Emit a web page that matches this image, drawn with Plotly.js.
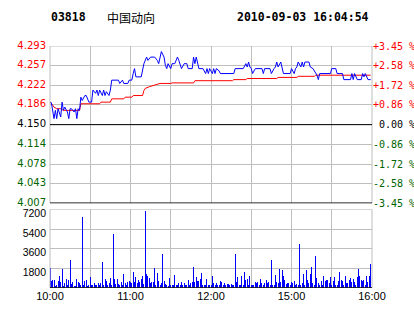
<!DOCTYPE html>
<html><head><meta charset="utf-8">
<script src="https://cdn.plot.ly/plotly-3.0.1.min.js"></script>
<style>html,body{margin:0;padding:0;background:#fff;}#chart{width:414px;height:314px;}</style>
</head><body><div id="chart"></div>
<script>
const stockCode = '03818';
const stockName = '中国动向';
const stamp = '2010-09-03 16:04:54';
const prevClose = 4.150;
const timeTickPos = [0, 30, 60, 90, 120, 150, 180, 210, 240];
const timeTickText = ['10:00', '', '11:00', '', '12:00', '', '15:00', '', '16:00'];
const priceTicks = [4.007, 4.043, 4.078, 4.114, 4.150, 4.186, 4.222, 4.257, 4.293];
const pctTicks = ['-3.45', '-2.58', '-1.72', '-0.86', '0.00', '+0.86', '+1.72', '+2.58', '+3.45'];
const volTicks = [1800, 3600, 5400, 7200];

// minutes since 10:00 (session time, lunch removed)
const priceMin = [0,1,3,4,5,6,8,9,10,11,13,14,15,16,18,19,20,21,22,23,
  24,26,27,29,31,32,34,35,36,37,39,40,41,42,44,45,46,51,52,54,
  55,58,59,61,62,63,64,68,70,71,72,73,75,78,80,81,82,83,85,86,
  87,88,90,91,93,95,96,97,98,100,102,103,106,107,108,109,111,114,116,117,
  118,119,121,122,123,124,126,127,137,138,144,146,147,148,149,150,151,153,158,159,
  160,164,165,167,168,169,170,172,173,174,179,180,182,183,184,185,187,188,189,190,
  193,194,196,198,199,200,201,209,210,213,214,218,219,224,225,226,227,229,232,233,
  234,235,237,239];
const priceVal = [4.190,4.190,4.161,4.176,4.161,4.179,4.164,4.191,4.176,4.182,4.173,4.161,4.179,4.179,4.173,4.179,4.161,4.179,4.176,4.200,
  4.194,4.203,4.203,4.191,4.191,4.213,4.207,4.213,4.203,4.213,4.203,4.213,4.203,4.210,4.203,4.213,4.231,4.231,4.225,4.231,
  4.225,4.225,4.231,4.231,4.243,4.252,4.237,4.237,4.261,4.267,4.273,4.267,4.273,4.273,4.267,4.261,4.273,4.283,4.273,4.258,
  4.252,4.261,4.252,4.261,4.261,4.273,4.267,4.258,4.252,4.261,4.261,4.252,4.252,4.273,4.261,4.273,4.252,4.252,4.243,4.252,
  4.243,4.252,4.243,4.252,4.243,4.252,4.248,4.243,4.243,4.252,4.252,4.261,4.255,4.264,4.255,4.252,4.243,4.252,4.252,4.243,
  4.252,4.252,4.243,4.252,4.255,4.264,4.255,4.264,4.255,4.243,4.243,4.252,4.243,4.252,4.255,4.264,4.255,4.264,4.255,4.264,
  4.264,4.255,4.252,4.243,4.240,4.232,4.243,4.243,4.252,4.252,4.243,4.243,4.232,4.232,4.243,4.232,4.243,4.232,4.232,4.243,
  4.237,4.243,4.232,4.232];

const avgMin = [0,3,5,8,10,22,23,37,38,45,46,55,56,61,62,69,70,71,74,79,82,90,91,107,108,136,137,146,147,169,170,184,185,197,198,239];
const avgVal = [4.192,4.182,4.179,4.179,4.176,4.176,4.188,4.188,4.191,4.191,4.197,4.197,4.200,4.200,4.203,4.203,4.212,4.216,4.219,4.222,
  4.225,4.225,4.226,4.226,4.230,4.230,4.232,4.232,4.234,4.234,4.236,4.236,4.238,4.238,4.240,4.240];

// one value per minute, starting 10:00
const volume = [
  1820,670,760,760,210,300,670,1125,550,1760,
  210,460,850,300,760,2580,400,550,210,210,
  850,550,490,300,6480,240,670,730,150,270,
  1030,300,300,460,300,300,460,300,430,2370,
  300,850,670,300,430,910,300,4950,850,365,
  850,365,240,550,300,1280,430,300,550,670,
  550,430,1460,550,970,430,760,550,850,1125,
  365,7050,1280,1125,910,430,550,550,1820,300,
  1370,610,300,430,3100,670,365,300,180,910,
  240,300,300,1220,240,240,430,240,550,300,
  430,240,300,730,300,430,550,1950,550,1030,
  610,670,850,1370,300,240,240,850,240,240,
  300,1125,460,240,430,240,240,610,550,240,
  430,240,400,400,240,400,300,240,3130,550,
  1030,300,240,1125,300,1490,760,850,300,1125,
  240,300,240,550,430,550,300,850,430,300,
  430,730,430,550,300,2580,240,240,1220,550,
  430,1760,550,1670,1125,730,365,430,430,300,
  550,430,670,300,365,300,4010,240,430,1300,
  300,1670,730,430,1280,1950,430,300,2950,940,
  430,300,670,300,1125,670,730,730,430,1030,
  300,610,1030,300,300,670,1490,730,670,300,
  1125,430,430,730,940,550,790,550,240,1030,
  1760,1125,730,670,730,300,1125,550,1125,2220];

const RED = '#ff0000', GREEN = '#006400', BLUE = '#0000ff', GRID = '#bebebe', BLACK = '#000000';
const yLo = prevClose * (1 - 0.0345), yHi = prevClose * (1 + 0.0345);

function colorFor(v) {
  if (Math.abs(v - prevClose) < 1e-6) return BLACK;
  return v > prevClose ? RED : GREEN;
}
const priceTickText = priceTicks.map(v => '<span style="color:' + colorFor(v) + '">' + v.toFixed(3) + '</span>');
const pctTickText = priceTicks.map((v, i) => '<span style="color:' + colorFor(v) + '">' + (pctTicks[i] === '0.00' ? '\u00a00.00' : pctTicks[i]) + '\u00a0%</span>');

const volX = volume.map((_, i) => i);

const traces = [
  { type: 'bar', x: volX, y: volume, xaxis: 'x', yaxis: 'y2', width: 0.75,
    marker: { color: BLUE, line: { width: 0 } }, hoverinfo: 'skip' },
  { type: 'scatter', mode: 'lines', x: avgMin, y: avgVal, xaxis: 'x2', yaxis: 'y',
    line: { color: RED, width: 1 }, hoverinfo: 'skip' },
  { type: 'scatter', mode: 'lines', x: priceMin, y: priceVal, xaxis: 'x2', yaxis: 'y',
    line: { color: BLUE, width: 1 }, hoverinfo: 'skip' },
  { type: 'scatter', mode: 'markers', x: [0], y: [prevClose], xaxis: 'x2', yaxis: 'y3',
    marker: { opacity: 0, size: 1 }, hoverinfo: 'skip' }
];

const H = 242, TOP = 46;
function py(px) { return (TOP + H - px) / H; }

const layout = {
  width: 414, height: 314,
  margin: { l: 50, r: 42, t: 46, b: 26, pad: 0 },
  paper_bgcolor: '#fff', plot_bgcolor: '#fff',
  showlegend: false, bargap: 0,
  xaxis: { domain: [0, 1], anchor: 'y2', range: [0, 240], tickmode: 'array',
    tickvals: timeTickPos, ticktext: timeTickText, showgrid: true, gridcolor: GRID, gridwidth: 1,
    zeroline: false, showline: false, ticks: '',
    tickfont: { family: 'Liberation Sans, Arial, sans-serif', size: 11, color: BLACK } },
  xaxis2: { domain: [0, 1], anchor: 'y', range: [0, 240], tickmode: 'array',
    tickvals: timeTickPos, showticklabels: false, showgrid: true, gridcolor: GRID, gridwidth: 1,
    zeroline: false, showline: false, ticks: '' },
  yaxis: { domain: [0.35, 1], anchor: 'x2', range: [yLo, yHi], tickmode: 'array',
    tickvals: priceTicks, ticktext: priceTickText, showgrid: true, gridcolor: GRID, gridwidth: 1,
    zeroline: false, showline: false, ticks: '', ticklabelstandoff: 3, ticklabelshift: -1,
    tickfont: { family: 'DejaVu Sans, sans-serif', size: 10, color: BLACK } },
  yaxis3: { overlaying: 'y', side: 'right', anchor: 'x2', range: [yLo, yHi], tickmode: 'array',
    tickvals: priceTicks, ticktext: pctTickText, showgrid: false, zeroline: false, showline: false, ticks: '',
    ticklabelstandoff: 0,
    tickfont: { family: 'DejaVu Sans Mono, monospace', size: 10, color: BLACK } },
  yaxis2: { domain: [0, 0.325], anchor: 'x', range: [0, 7200], tickmode: 'array',
    tickvals: volTicks, showgrid: true, gridcolor: GRID, gridwidth: 1,
    zeroline: false, showline: false, ticks: '', ticklabelstandoff: 3, ticklabelshift: 4,
    tickfont: { family: 'Liberation Sans, Arial, sans-serif', size: 10.5, color: BLACK } },
  shapes: [
    { type: 'rect', xref: 'paper', yref: 'y', x0: 0, x1: 1, y0: yLo, y1: yHi, line: { color: GRID, width: 1 } },
    { type: 'rect', xref: 'paper', yref: 'y2', x0: 0, x1: 1, y0: 0, y1: 7200, line: { color: GRID, width: 1 } },
    { type: 'line', xref: 'paper', yref: 'y', x0: 0, x1: 1, y0: prevClose, y1: prevClose, line: { color: BLACK, width: 1 } },
    { type: 'line', xref: 'paper', yref: 'y', x0: 0, x1: 1, y0: yLo, y1: yLo, line: { color: BLACK, width: 1.5 } },
    { type: 'line', xref: 'paper', yref: 'y2', x0: 0, x1: 1, y0: 0, y1: 0, line: { color: BLACK, width: 1.5 } }
  ],
  annotations: [
    { text: '<b>' + stockCode + '</b>', xref: 'paper', yref: 'paper', x: -0.003, y: py(17),
      xanchor: 'left', yanchor: 'middle', showarrow: false,
      font: { family: 'DejaVu Sans Mono, monospace', size: 11.5, color: BLACK } },
    { text: stockName, xref: 'paper', yref: 'paper', x: (105 - 50) / 322, y: py(17),
      xanchor: 'left', yanchor: 'middle', showarrow: false,
      font: { family: 'Noto Sans CJK SC, sans-serif', size: 12, color: BLACK } },
    { text: '<b>' + stamp + '</b>', xref: 'paper', yref: 'paper', x: (371 - 50) / 322, y: py(17),
      xanchor: 'right', yanchor: 'middle', showarrow: false,
      font: { family: 'DejaVu Sans Mono, monospace', size: 11.5, color: BLACK } }
  ]
};

Plotly.newPlot('chart', traces, layout, { staticPlot: true, displayModeBar: false });
</script>
</body></html>
